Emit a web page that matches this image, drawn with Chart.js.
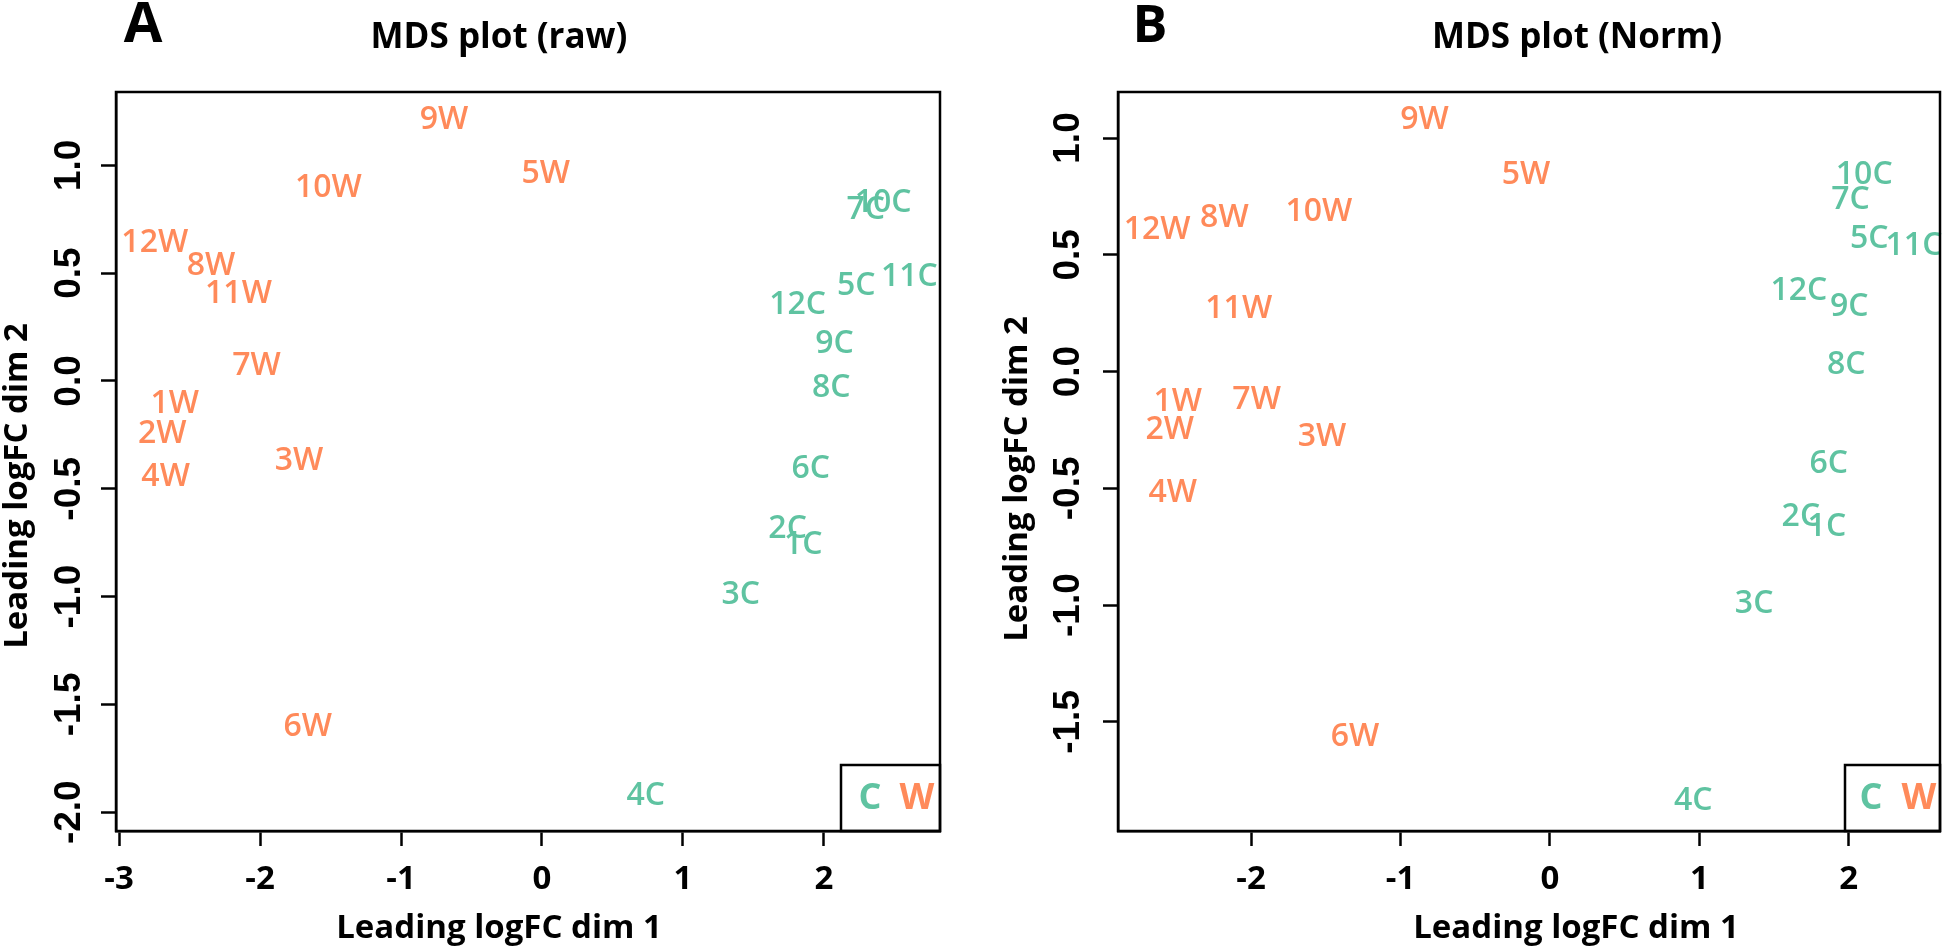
<!DOCTYPE html>
<html><head><meta charset="utf-8">
<script src="https://cdn.jsdelivr.net/npm/chart.js@4.4.1/dist/chart.umd.min.js"></script>
<style>
html,body{margin:0;padding:0;background:#fff;}
#wrap{position:relative;width:1946px;height:949px;overflow:hidden;background:#fff;}
canvas{position:absolute;left:0;top:0;}
</style></head><body>
<div id="wrap"><canvas id="cA" width="1946" height="949"></canvas><canvas id="cB" width="1946" height="949"></canvas></div>
<script>
// ---------- data ----------
const labelsC = ['1C','2C','3C','4C','5C','6C','7C','8C','9C','10C','11C','12C'];
const labelsW = ['1W','2W','3W','4W','5W','6W','7W','8W','9W','10W','11W','12W'];

// Panel A: MDS plot (raw)
const rawCx = [1.854, 1.743, 1.411, 0.737, 2.230, 1.907, 2.297, 2.053, 2.075, 2.421, 2.607, 1.814];
const rawCy = [-0.758, -0.685, -0.990, -1.922, 0.440, -0.406, 0.791, -0.031, 0.173, 0.825, 0.482, 0.351];
const rawWx = [-2.605, -2.694, -1.723, -2.670, 0.027, -1.661, -2.025, -2.348, -0.695, -1.515, -2.153, -2.747];
const rawWy = [-0.108, -0.247, -0.371, -0.446, 0.958, -1.602, 0.070, 0.533, 1.209, 0.896, 0.402, 0.641];
const rawXTicks = [-3, -2, -1, 0, 1, 2];
const rawYTicks = [-2, -1.5, -1, -0.5, 0, 0.5, 1];
const rawXRange = [-3.022, 2.824];
const rawYRange = [-2.087, 1.340];

// Panel B: MDS plot (Norm)
const normCx = [1.854, 1.680, 1.367, 0.959, 2.137, 1.867, 2.012, 1.983, 2.004, 2.104, 2.437, 1.667];
const normCy = [-0.667, -0.621, -0.993, -1.840, 0.566, -0.396, 0.737, 0.029, 0.276, 0.844, 0.537, 0.347];
const normWx = [-2.491, -2.545, -1.525, -2.524, -0.160, -1.305, -1.963, -2.179, -0.839, -1.546, -2.083, -2.629];
const normWy = [-0.131, -0.249, -0.281, -0.521, 0.844, -1.564, -0.121, 0.659, 1.076, 0.683, 0.269, 0.607];
const normXTicks = [-2, -1, 0, 1, 2];
const normYTicks = [-1.5, -1, -0.5, 0, 0.5, 1];
const normXRange = [-2.891, 2.611];
const normYRange = [-1.967, 1.197];

const groupNames = ['C', 'W'];
const groupColors = ['#5fc3a1', '#ff8a5a'];

// ---------- drawing ----------
const SANS = '"Open Sans", "Liberation Sans", sans-serif';
const mdsPlugin = {
  id: 'mds',
  afterDatasetsDraw(chart) {
    const ctx = chart.ctx;
    ctx.save();
    ctx.font = '600 32px ' + SANS;
    ctx.textAlign = 'center';
    ctx.textBaseline = 'middle';
    chart.data.datasets.forEach((ds, i) => {
      const meta = chart.getDatasetMeta(i);
      ctx.fillStyle = ds.borderColor;
      meta.data.forEach((el, j) => {
        ctx.fillText(ds.pointText[j], el.x, el.y);
      });
    });
    ctx.restore();
  },
  afterDraw(chart, args, o) {
    const ctx = chart.ctx, a = chart.chartArea;
    ctx.save();
    ctx.strokeStyle = '#000';
    ctx.lineWidth = 2.5;
    ctx.strokeRect(a.left, a.top, a.right - a.left, a.bottom - a.top);

    // y tick labels (rotated, as in R)
    const ys = chart.scales.y;
    ctx.fillStyle = '#000';
    ctx.font = 'bold 37px "Liberation Sans", Arial, sans-serif';
    ctx.textAlign = 'center';
    ctx.textBaseline = 'alphabetic';
    ys.ticks.forEach(t => {
      const py = ys.getPixelForValue(t.value);
      ctx.save();
      ctx.translate(o.yTickX, py);
      ctx.rotate(-Math.PI / 2);
      ctx.fillText(t.value.toFixed(1), 0, 0);
      ctx.restore();
    });

    // axis titles
    ctx.font = 'bold 33px ' + SANS;
    ctx.save();
    ctx.translate(o.yTitleX, o.yTitleY);
    ctx.rotate(-Math.PI / 2);
    ctx.fillText(o.yTitle, 0, 0);
    ctx.restore();
    ctx.fillText(o.xTitle, o.xTitleX, o.xTitleY);

    // main title + panel letter
    ctx.font = 'bold 35px ' + SANS;
    ctx.fillText(o.title, o.titleX, o.titleY);
    ctx.font = 'bold ' + o.letterSize + 'px ' + SANS;
    ctx.fillText(o.letter, o.letterX, o.letterY);

    // legend (bottom right, horizontal)
    const lw = o.legendW, lh = 66;
    const lx = a.right - lw, ly = a.bottom - lh;
    ctx.lineWidth = 2.5;
    ctx.strokeRect(lx, ly, lw, lh);
    ctx.font = 'bold 36px ' + SANS;
    chart.data.datasets.forEach((ds, i) => {
      ctx.fillStyle = ds.borderColor;
      ctx.fillText(ds.label, lx + o.legendX[i], a.bottom - 22);
    });
    ctx.restore();
  }
};

function pts(xs, ys) { return xs.map((x, i) => ({x: x, y: ys[i]})); }

function makeChart(id, d) {
  return new Chart(document.getElementById(id), {
    type: 'scatter',
    data: {
      datasets: [
        {label: groupNames[0], data: pts(d.cx, d.cy), pointText: labelsC,
         borderColor: groupColors[0], backgroundColor: groupColors[0], pointRadius: 0, pointHoverRadius: 0},
        {label: groupNames[1], data: pts(d.wx, d.wy), pointText: labelsW,
         borderColor: groupColors[1], backgroundColor: groupColors[1], pointRadius: 0, pointHoverRadius: 0}
      ]
    },
    options: {
      responsive: false,
      animation: false,
      events: [],
      layout: {padding: d.padding},
      plugins: {
        legend: {display: false},
        title: {display: false},
        tooltip: {enabled: false},
        mds: d.text
      },
      scales: {
        x: {
          type: 'linear', min: d.xRange[0], max: d.xRange[1],
          afterBuildTicks: s => { s.ticks = d.xTicks.map(v => ({value: v})); },
          afterFit: s => { s.height = 118; },
          ticks: {
            autoSkip: false, maxRotation: 0, minRotation: 0, padding: 14,
            color: '#000', font: {family: SANS, weight: 'bold', size: 33},
            callback: v => String(v)
          },
          grid: {display: true, drawOnChartArea: false, drawTicks: true, tickLength: 15,
                 tickWidth: 2.5, tickColor: '#000', color: '#000'},
          border: {display: true, color: '#000', width: 2.5}
        },
        y: {
          type: 'linear', min: d.yRange[0], max: d.yRange[1],
          afterBuildTicks: s => { s.ticks = d.yTicks.map(v => ({value: v})); },
          afterFit: s => { s.width = 116; },
          ticks: {display: false},
          grid: {display: true, drawOnChartArea: false, drawTicks: true, tickLength: 15,
                 tickWidth: 2.5, tickColor: '#000', color: '#000'},
          border: {display: true, color: '#000', width: 2.5}
        }
      }
    },
    plugins: [mdsPlugin]
  });
}

makeChart('cA', {
  cx: rawCx, cy: rawCy, wx: rawWx, wy: rawWy,
  xTicks: rawXTicks, yTicks: rawYTicks, xRange: rawXRange, yRange: rawYRange,
  padding: {left: 0, right: 1006, top: 92, bottom: 0},
  text: {
    yTickX: 80, yTitle: 'Leading logFC dim 2', yTitleX: 27, yTitleY: 486,
    xTitle: 'Leading logFC dim 1', xTitleX: 499, xTitleY: 938,
    title: 'MDS plot (raw)', titleX: 499, titleY: 48,
    letter: 'A', letterX: 143, letterY: 42, letterSize: 56,
    legendW: 99, legendX: [29, 76]
  }
});

makeChart('cB', {
  cx: normCx, cy: normCy, wx: normWx, wy: normWy,
  xTicks: normXTicks, yTicks: normYTicks, xRange: normXRange, yRange: normYRange,
  padding: {left: 1002, right: 6, top: 92, bottom: 0},
  text: {
    yTickX: 1079, yTitle: 'Leading logFC dim 2', yTitleX: 1027, yTitleY: 479,
    xTitle: 'Leading logFC dim 1', xTitleX: 1576, xTitleY: 938,
    title: 'MDS plot (Norm)', titleX: 1577, titleY: 48,
    letter: 'B', letterX: 1150, letterY: 42, letterSize: 52,
    legendW: 95, legendX: [26, 74]
  }
});
</script>
</body></html>
